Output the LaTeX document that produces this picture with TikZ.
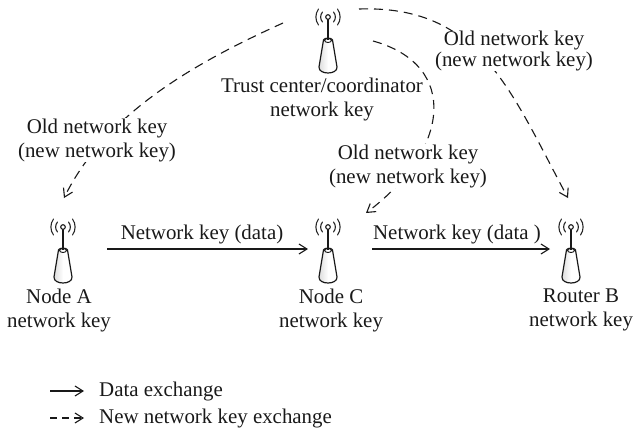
\documentclass[tikz,border=0pt]{standalone}
\usepackage{fontspec}
\setmainfont{Liberation Serif}
\usetikzlibrary{arrows.meta,calc}
\tikzset{
  lbl/.style={inner sep=0pt,font=\fontsize{20.9}{24}\selectfont,align=center,text=black!90},
  lblw/.style={lbl,fill=white,inner xsep=1pt,inner ysep=0pt},
  tip/.style={-{Straight Barb[length=8pt,width=10pt,line width=1.1pt]}},
  solidarrow/.style={tip,line width=1.6pt,draw=black!90},
  dasharrow/.style={tip,line width=1.1pt,draw=black!90,dash pattern=on 9pt off 6pt},
  legdash/.style={tip,line width=1.1pt,draw=black!90,dash pattern=on 7pt off 5pt},
  wave/.style={line width=1.1pt,draw=black!85,line cap=round},
}
\newcommand{\antenna}[3]{% name, x, y of the circle on top
  \begin{scope}[shift={(#2,#3)}]
    \coordinate (#1) at (0,0);
    \path[left color=black!14,right color=white,middle color=white,draw=black!90,line width=1.2pt]
      (-4.5,23) .. controls (-4,20.5) and (4,20.5) .. (4.5,23)
      -- (9,50) .. controls (9.5,58) and (-9.5,58) .. (-9,50) -- cycle;
    \draw[line width=0.9pt,draw=black!90] (0,23.5) ellipse (3.4 and 2);
    \draw[line width=1.6pt,draw=black!90] (0,1) -- (0,23);
    \draw[line width=1.1pt,draw=black!90,fill=white] (0,0) circle (2.3);
    \draw[wave] (-5.5,-5) .. controls (-8,-2) and (-8,2) .. (-5.5,5);
    \draw[wave] (5.5,-5) .. controls (8,-2) and (8,2) .. (5.5,5);
    \draw[wave] (-9.5,-8) .. controls (-13,-3) and (-13,3) .. (-9.5,8);
    \draw[wave] (9.5,-8) .. controls (13,-3) and (13,3) .. (9.5,8);
  \end{scope}
}
\begin{document}
\begin{tikzpicture}[x=1pt,y=-1pt]
  \useasboundingbox (0,0) rectangle (635,432);
  \antenna{tc}{328}{17}
  \antenna{na}{63}{227}
  \antenna{nc}{328}{227}
  \antenna{rb}{571}{227}
  \coordinate (s1) at (283,23);
  \coordinate (e1) at (64,198);
  \coordinate (s2) at (373,41);
  \coordinate (e2) at (366,213);
  \coordinate (s3) at (359,9);
  \coordinate (e3) at (568,198);
  \draw[dasharrow] (s1) .. controls (190,65) and (105,115) .. (e1);
  \draw[dasharrow] (s2) .. controls (460,65) and (450,150) .. (e2);
  \draw[dasharrow] (s3) .. controls (480,5) and (510,90) .. (e3);
  \coordinate (a1) at (107,249);
  \coordinate (a2) at (308,249);
  \coordinate (b1) at (372,249);
  \coordinate (b2) at (550,249);
  \draw[solidarrow] (a1) -- (a2);
  \draw[solidarrow] (b1) -- (b2);
  \node[lbl] (t1) at (322,99) {Trust center/coordinator\\network key};
  \node[lblw] (l1) at (97,140) {Old network key\\(new network key)};
  \node[lblw] (l2) at (408,166) {Old network key\\(new network key)};
  \node[lblw,font=\fontsize{20.9}{16.5}\selectfont] (l3) at (514,51) {Old network key\\(new network key)};
  \node[lbl] (k1) at (202,234) {Network key (data)};
  \node[lbl] (k2) at (457,234) {Network key (data )};
  \node[lbl] (n1) at (59,310) {Node A\\network key};
  \node[lbl] (n2) at (331,310) {Node C\\network key};
  \node[lbl] (n3) at (581,310) {Router B\\network key};
  \coordinate (g1) at (50,391);
  \coordinate (g2) at (84,391);
  \coordinate (g3) at (50,418);
  \coordinate (g4) at (84,418);
  \draw[solidarrow,line width=1.3pt] (g1) -- (g2);
  \draw[legdash] (g3) -- (g4);
  \node[lbl,anchor=west] (d1) at (99,391) {Data exchange};
  \node[lbl,anchor=west] (d2) at (99,418) {New network key exchange};
\end{tikzpicture}
\end{document}
